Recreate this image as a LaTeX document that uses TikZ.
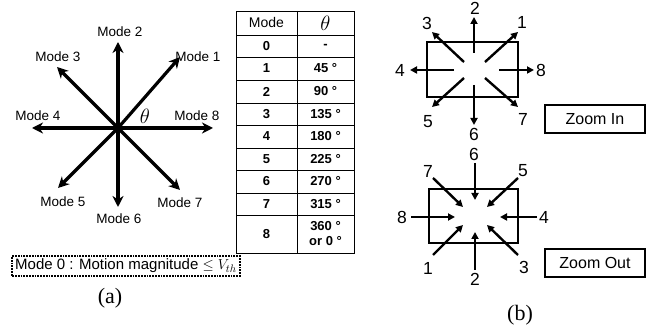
\documentclass[tikz,border=0pt]{standalone}
\usepackage{fontspec}
\setmainfont{Liberation Serif}
\setsansfont{Liberation Sans}
\usetikzlibrary{arrows.meta}

\begin{document}
\begin{tikzpicture}[x=1pt, y=-1pt,
    lbl/.style={font=\sffamily\fontsize{13.5}{15}\selectfont},
    num/.style={font=\sffamily\fontsize{17.5}{19}\selectfont},
    cell/.style={font=\sffamily\bfseries\fontsize{13}{15}\selectfont, align=center},
    big/.style={-{Stealth[length=11pt, width=11pt, inset=3.5pt]}, line width=3.2pt},
    small/.style={-{Triangle[length=7pt, width=7pt]}, line width=2.4pt},
    frame/.style={draw, line width=2.4pt},
    tag/.style={draw, line width=1.2pt, minimum width=100pt, minimum height=28pt, font=\sffamily\fontsize{16}{18}\selectfont}]

    \useasboundingbox (0,0) rectangle (651,328);

    % (a) direction modes
    \coordinate (c) at (118,128);
    \coordinate (t1) at (180,57);
    \coordinate (t2) at (118,42);
    \coordinate (t3) at (57,67);
    \coordinate (t4) at (32,128);
    \coordinate (t5) at (58,188);
    \coordinate (t6) at (118,207);
    \coordinate (t7) at (180,190);
    \coordinate (t8) at (213,128);

    \node[lbl] (m1) at (198,57) {Mode 1};
    \node[lbl] (m2) at (120,32) {Mode 2};
    \node[lbl] (m3) at (58,57) {Mode 3};
    \node[lbl] (m4) at (38,116) {Mode 4};
    \node[lbl] (m5) at (63,202) {Mode 5};
    \node[lbl] (m6) at (119,219) {Mode 6};
    \node[lbl] (m7) at (180,203) {Mode 7};
    \node[lbl] (m8) at (197,116) {Mode 8};
    \node[font=\fontsize{21}{22}\selectfont] (th) at (145,116) {$\theta$};

    \draw[big] (c) -- (t1);
    \draw[big] (c) -- (t2);
    \draw[big] (c) -- (t3);
    \draw[big] (c) -- (t4);
    \draw[big] (c) -- (t5);
    \draw[big] (c) -- (t6);
    \draw[big] (c) -- (t7);
    \draw[big] (c) -- (t8);

    % table of angles
    \draw[line width=0.9pt] (236,11) rectangle (354,253);
    \draw[line width=0.9pt] (297,11) -- (297,253);
    \foreach \y in {35,57,80,103,125,148,170,193,215}
        \draw[line width=0.9pt] (236,\y) -- (354,\y);

    \node[font=\sffamily\fontsize{14}{16}\selectfont] (hmode) at (266.5,23) {Mode};
    \node[font=\fontsize{20}{22}\selectfont] (htheta) at (325.5,23) {$\theta$};
    \node[cell] (r0) at (266.5,46) {0};
    \node[cell] (v0) at (325.5,46) {-};
    \node[cell] (r1) at (266.5,68.5) {1};
    \node[cell] (v1) at (325.5,68.5) {45 °};
    \node[cell] (r2) at (266.5,91.5) {2};
    \node[cell] (v2) at (325.5,91.5) {90 °};
    \node[cell] (r3) at (266.5,114) {3};
    \node[cell] (v3) at (325.5,114) {135 °};
    \node[cell] (r4) at (266.5,136.5) {4};
    \node[cell] (v4) at (325.5,136.5) {180 °};
    \node[cell] (r5) at (266.5,159) {5};
    \node[cell] (v5) at (325.5,159) {225 °};
    \node[cell] (r6) at (266.5,181.5) {6};
    \node[cell] (v6) at (325.5,181.5) {270 °};
    \node[cell] (r7) at (266.5,204) {7};
    \node[cell] (v7) at (325.5,204) {315 °};
    \node[cell] (r8) at (266.5,234) {8};
    \node[cell] (v8) at (325.5,234) {360 °\\or 0 °};

    \node[draw, densely dotted, line width=1.8pt, inner sep=3pt, font=\sffamily\fontsize{15}{17}\selectfont] (zero) at (126,266)
        {Mode 0 : Motion magnitude $\leq V_{th}$};
    \node[font=\fontsize{22}{24}\selectfont] (capa) at (110,298) {(a)};

    % (b) zoom in
    \draw[frame] (427,42) rectangle (518,97);
    \coordinate (i2a) at (474,53);  \coordinate (i2b) at (474,17);
    \coordinate (i6a) at (474,85);  \coordinate (i6b) at (474,125);
    \coordinate (i4a) at (454,70);  \coordinate (i4b) at (410,70);
    \coordinate (i8a) at (499,70);  \coordinate (i8b) at (534,70);
    \coordinate (i3a) at (464,62);  \coordinate (i3b) at (432,32);
    \coordinate (i1a) at (485,62);  \coordinate (i1b) at (518,32);
    \coordinate (i5a) at (464,78);  \coordinate (i5b) at (432,107);
    \coordinate (i7a) at (485,78);  \coordinate (i7b) at (518,107);

    \draw[small] (i1a) -- (i1b);
    \draw[small] (i2a) -- (i2b);
    \draw[small] (i3a) -- (i3b);
    \draw[small] (i4a) -- (i4b);
    \draw[small] (i5a) -- (i5b);
    \draw[small] (i6a) -- (i6b);
    \draw[small] (i7a) -- (i7b);
    \draw[small] (i8a) -- (i8b);

    \node[num] (in1) at (522,22) {1};
    \node[num] (in2) at (475,8) {2};
    \node[num] (in3) at (427,23) {3};
    \node[num] (in4) at (400,70) {4};
    \node[num] (in5) at (428,122) {5};
    \node[num] (in6) at (474,134) {6};
    \node[num] (in7) at (523,119) {7};
    \node[num] (in8) at (541,70) {8};

    \node[tag] (zin) at (595,119) {Zoom In};

    % (b) zoom out
    \draw[frame] (429,189) rectangle (518,243);
    \coordinate (o6a) at (475,163); \coordinate (o6b) at (475,200);
    \coordinate (o2a) at (475,270); \coordinate (o2b) at (475,232);
    \coordinate (o8a) at (411,217); \coordinate (o8b) at (455,217);
    \coordinate (o4a) at (537,217); \coordinate (o4b) at (500,217);
    \coordinate (o7a) at (433,178); \coordinate (o7b) at (463,207);
    \coordinate (o5a) at (518,178); \coordinate (o5b) at (487,207);
    \coordinate (o1a) at (433,255); \coordinate (o1b) at (463,225);
    \coordinate (o3a) at (518,255); \coordinate (o3b) at (487,225);

    \draw[small] (o1a) -- (o1b);
    \draw[small] (o2a) -- (o2b);
    \draw[small] (o3a) -- (o3b);
    \draw[small] (o4a) -- (o4b);
    \draw[small] (o5a) -- (o5b);
    \draw[small] (o6a) -- (o6b);
    \draw[small] (o7a) -- (o7b);
    \draw[small] (o8a) -- (o8b);

    \node[num] (out1) at (428,268) {1};
    \node[num] (out2) at (475,279) {2};
    \node[num] (out3) at (524,267) {3};
    \node[num] (out4) at (544,217) {4};
    \node[num] (out5) at (523,171) {5};
    \node[num] (out6) at (474,154) {6};
    \node[num] (out7) at (428,171) {7};
    \node[num] (out8) at (402,217) {8};

    \node[tag] (zout) at (595,263) {Zoom Out};
    \node[font=\fontsize{22}{24}\selectfont] (capb) at (520,315) {(b)};
\end{tikzpicture}
\end{document}
